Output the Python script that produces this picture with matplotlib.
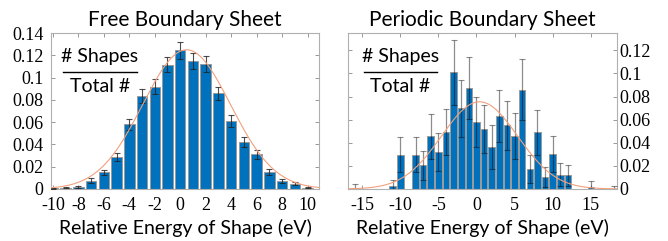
import numpy as np
import matplotlib
matplotlib.use("Agg")
import matplotlib.pyplot as plt

# ---------------- data ----------------
free_x = list(range(-10, 11))
free_y = [0.0005, 0.001, 0.002, 0.0075, 0.015, 0.0287, 0.058, 0.0835, 0.092, 0.1116,
          0.1244, 0.1149, 0.1122, 0.086, 0.061, 0.0422, 0.031, 0.0153, 0.0072, 0.0048, 0.0012]
free_err = [0.0003, 0.0005, 0.0008, 0.0024, 0.0023, 0.0036, 0.005, 0.0062, 0.0067, 0.0069,
            0.0078, 0.0071, 0.0075, 0.006, 0.0054, 0.0045, 0.0037, 0.0027, 0.0018, 0.0015, 0.0006]
free_fit = dict(amp=0.125, mu=0.5, sigma=3.45)

per_x = [-16, -11, -10, -8, -7, -6, -5, -4, -3, -2, -1, 0, 1, 2, 3, 4, 5, 6, 7, 8, 9, 10, 11, 12, 15, 18]
per_y = [0.001, 0.003, 0.0297, 0.0297, 0.0205, 0.0456, 0.032, 0.049, 0.101, 0.070, 0.0874, 0.058,
         0.052, 0.0367, 0.0632, 0.055, 0.046, 0.086, 0.0173, 0.049, 0.0104, 0.030, 0.0124, 0.0118,
         0.002, 0.0]
per_err = [0.0036, 0.005, 0.015, 0.015, 0.0127, 0.0194, 0.0165, 0.020, 0.028, 0.0247, 0.0266, 0.0217,
           0.021, 0.019, 0.0228, 0.021, 0.020, 0.0266, 0.0124, 0.0197, 0.0084, 0.0156, 0.010, 0.0092,
           0.0046, 0.003]
per_fit = dict(amp=0.0755, mu=0.4, sigma=5.0)

free_xticks = [-10, -8, -6, -4, -2, 0, 2, 4, 6, 8, 10]
free_yticks = [0, 0.02, 0.04, 0.06, 0.08, 0.1, 0.12, 0.14]
per_xticks = [-15, -10, -5, 0, 5, 10, 15]
per_yticks = [0, 0.02, 0.04, 0.06, 0.08, 0.1, 0.12]

# ---------------- style ----------------
BAR = "#0072BD"
EDGE = "#9a9a9a"
FIT = "#F2A07E"
FRAME = "#b0b0b0"
SANS = ["Lato", "DejaVu Sans"]
SERIF = ["Liberation Serif", "DejaVu Serif"]
plt.rcParams["font.family"] = SERIF

fig = plt.figure(figsize=(6.68, 2.41), dpi=100)
axL = fig.add_axes([0.0763, 0.2158, 0.4013, 0.647])
axR = fig.add_axes([0.5214, 0.2158, 0.4018, 0.647])


def lab(v):
    return "%g" % v


def style(ax, xticks, yticks, right):
    for sp in ax.spines.values():
        sp.set_color(FRAME)
        sp.set_linewidth(0.8)
    ax.set_xticks(xticks)
    ax.set_xticklabels([lab(v) for v in xticks])
    ax.set_yticks(yticks)
    ax.set_yticklabels([lab(v) for v in yticks])
    ax.tick_params(direction="in", length=3, width=0.6, color="#888888",
                   top=True, bottom=True, left=True, right=True, labelsize=13)
    ax.tick_params(axis="x", pad=6)
    if right:
        ax.yaxis.tick_right()
        ax.tick_params(axis="y", left=True, right=True, direction="in", pad=2)
    else:
        ax.tick_params(axis="y", pad=5.5)
    ax.set_xlabel("Relative Energy of Shape (eV)", family=SANS, fontsize=14, labelpad=3)


def gauss_line(ax, fit, lo, hi):
    xs = np.linspace(lo, hi, 400)
    ax.plot(xs, fit["amp"] * np.exp(-(xs - fit["mu"]) ** 2 / (2 * fit["sigma"] ** 2)),
            color=FIT, lw=0.8, zorder=4)


# left panel
axL.bar(free_x, free_y, width=0.82, color=BAR, edgecolor=EDGE, linewidth=0.7, zorder=2)
axL.errorbar(free_x, free_y, yerr=free_err, fmt="none", ecolor="#222222", elinewidth=0.8,
             capsize=2, capthick=0.8, alpha=0.8, zorder=3)
gauss_line(axL, free_fit, -10.2, 10.9)
axL.set_xlim(-10.15, 10.9)
axL.set_ylim(0, 0.14)
style(axL, free_xticks, free_yticks, right=False)
axL.set_title("Free Boundary Sheet", family=SANS, fontsize=15, pad=5)

# right panel
axR.bar(per_x, per_y, width=0.86, color=BAR, edgecolor=EDGE, linewidth=0.7, zorder=2)
axR.errorbar(per_x, per_y, yerr=per_err, fmt="none", ecolor="black", elinewidth=0.9,
             capsize=2, capthick=0.8, alpha=0.45, zorder=3)
gauss_line(axR, per_fit, -16.8, 18.4)
axR.set_xlim(-16.82, 18.4)
axR.set_ylim(0, 0.135)
style(axR, per_xticks, per_yticks, right=True)
axR.set_title("Periodic Boundary Sheet", family=SANS, fontsize=15, pad=5)

# "# Shapes / Total #" annotation
for ax, cx, x0, x1 in [(axL, 0.183, 0.045, 0.321), (axR, 0.194, 0.058, 0.330)]:
    ax.text(cx, 0.85, "# Shapes", transform=ax.transAxes, ha="center", va="center",
            family=SANS, fontsize=14, zorder=6)
    ax.plot([x0, x1], [0.75, 0.75], transform=ax.transAxes, color="black", lw=1.0, zorder=6)
    ax.text(cx, 0.655, "Total #", transform=ax.transAxes, ha="center", va="center",
            family=SANS, fontsize=14, zorder=6)

fig.savefig("out.png", dpi=100)
